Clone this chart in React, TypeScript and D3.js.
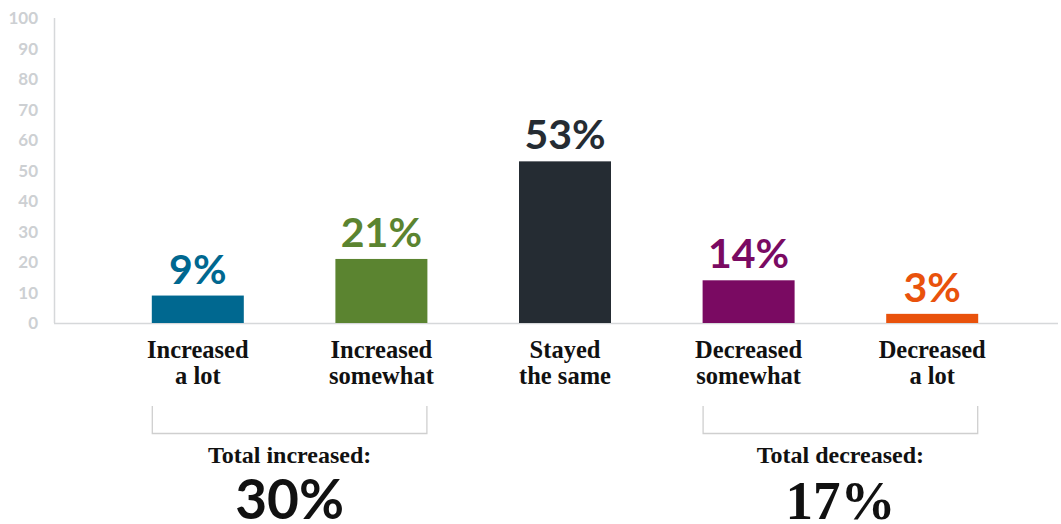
import React from "react";
import * as d3 from "d3";

const categories = ["Increased|a lot", "Increased|somewhat", "Stayed|the same", "Decreased|somewhat", "Decreased|a lot"];
const values = [9, 21, 53, 14, 3];
const colors = ["#006890", "#5b8430", "#252c33", "#7a0a62", "#e9520c"];
const yTicks = [0, 10, 20, 30, 40, 50, 60, 70, 80, 90, 100];
const totalLabels = ["Total increased:", "Total decreased:"];
const totalValues = ["30%", "17%"];

const W = 1061;
const H = 524;
const serif = "'Liberation Serif', 'DejaVu Serif', serif";
const sans = "Lato, 'Open Sans', sans-serif";

export default function App() {
  const x = d3.scaleBand<string>().domain(categories).range([106, 1024]).paddingInner(0.5).paddingOuter(0.25);
  const y = d3.scaleLinear().domain([0, 100]).range([323, 18]);
  const bw = 92;
  const cx = (c: string) => (x(c) as number) + x.bandwidth() / 2;

  const brackets = [
    [cx(categories[0]) - bw / 2, cx(categories[1]) + bw / 2],
    [cx(categories[3]) - bw / 2, cx(categories[4]) + bw / 2],
  ];

  return (
    <svg width={W} height={H} style={{ position: "absolute", left: 0, top: 0, background: "#fff" }}>
      <line x1={54.5} x2={54.5} y1={y(100)} y2={y(0)} stroke="#d6d8da" strokeWidth={1.5} />
      <line x1={54} x2={1058} y1={y(0) + 0.5} y2={y(0) + 0.5} stroke="#d6d8da" strokeWidth={1.5} />
      {yTicks.map((t) => (
        <text key={t} x={38} y={y(t)} dy="0.36em" textAnchor="end" fontFamily={sans} fontWeight={700} fontSize={17} fill="#cdd0d3">
          {t}
        </text>
      ))}
      {categories.map((c, i) => (
        <g key={c}>
          <rect x={cx(c) - bw / 2} y={y(values[i])} width={bw} height={y(0) - y(values[i])} fill={colors[i]} />
          <text x={cx(c)} y={y(values[i]) - 12} textAnchor="middle" fontFamily={sans} fontWeight={700} fontSize={41} fill={colors[i]}>
            {values[i]}%
          </text>
          {c.split("|").map((line, j) => (
            <text key={j} x={cx(c)} y={358 + j * 26} textAnchor="middle" fontFamily={serif} fontWeight={700} fontSize={24.5} fill="#111">
              {line}
            </text>
          ))}
        </g>
      ))}
      {brackets.map(([a, b], i) => {
        const m = (a + b) / 2;
        return (
          <g key={i}>
            <path d={`M${a + 0.5},406 V433.5 H${b - 0.5} V406`} fill="none" stroke="#cfcfcf" strokeWidth={1.3} />
            <text x={m} y={463} textAnchor="middle" fontFamily={serif} fontWeight={700} fontSize={24} fill="#111">
              {totalLabels[i]}
            </text>
            <text x={m} y={519} textAnchor="middle" fontFamily={i === 0 ? sans : serif} fontWeight={700} fontSize={55} fill="#111">
              {totalValues[i]}
            </text>
          </g>
        );
      })}
    </svg>
  );
}
